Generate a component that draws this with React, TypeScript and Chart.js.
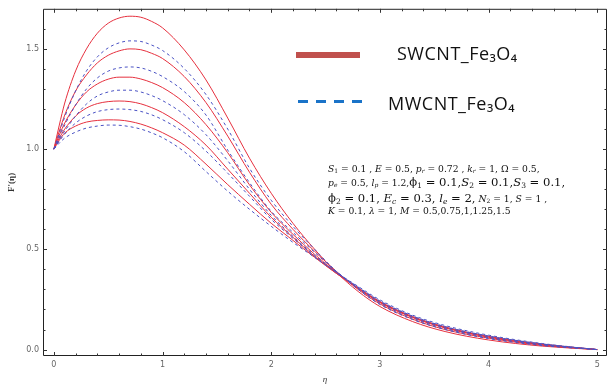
import React, { useEffect, useRef } from "react";
import { Chart, registerables } from "chart.js";
Chart.register(...registerables);

const eta = [0, 0.05, 0.1, 0.2, 0.3, 0.4, 0.5, 0.6, 0.7, 0.8, 0.9, 1.0, 1.2, 1.4, 1.6, 1.8, 2.0, 2.2, 2.4, 2.6, 2.8, 3.0, 3.3, 3.6, 4.0, 4.5, 5.0];

const swcnt1 = [1.0, 1.12, 1.23, 1.39, 1.5, 1.578, 1.628, 1.654, 1.663, 1.658, 1.637, 1.605, 1.495, 1.345, 1.155, 0.955, 0.78, 0.63, 0.5, 0.385, 0.29, 0.215, 0.14, 0.09, 0.048, 0.017, 0.0];
const swcnt2 = [1.0, 1.09, 1.17, 1.29, 1.37, 1.43, 1.468, 1.49, 1.5, 1.496, 1.478, 1.452, 1.362, 1.232, 1.065, 0.885, 0.725, 0.6, 0.49, 0.39, 0.3, 0.228, 0.152, 0.1, 0.057, 0.021, 0.0];
const swcnt3 = [1.0, 1.07, 1.13, 1.22, 1.285, 1.325, 1.349, 1.359, 1.359, 1.35, 1.332, 1.307, 1.232, 1.122, 0.982, 0.822, 0.685, 0.575, 0.475, 0.385, 0.305, 0.235, 0.16, 0.108, 0.062, 0.024, 0.0];
const swcnt4 = [1.0, 1.055, 1.1, 1.165, 1.205, 1.227, 1.237, 1.24, 1.237, 1.226, 1.207, 1.182, 1.112, 1.02, 0.9, 0.78, 0.66, 0.56, 0.465, 0.38, 0.305, 0.237, 0.162, 0.11, 0.063, 0.025, 0.0];
const swcnt5 = [1.0, 1.045, 1.08, 1.115, 1.135, 1.143, 1.146, 1.145, 1.138, 1.125, 1.106, 1.082, 1.02, 0.925, 0.823, 0.725, 0.63, 0.545, 0.46, 0.38, 0.308, 0.24, 0.165, 0.113, 0.066, 0.027, 0.0];

const mwcnt1 = [1.0, 1.08, 1.16, 1.29, 1.39, 1.46, 1.505, 1.53, 1.54, 1.537, 1.519, 1.492, 1.402, 1.272, 1.1, 0.905, 0.745, 0.615, 0.5, 0.39, 0.3, 0.225, 0.15, 0.1, 0.055, 0.02, 0.0];
const mwcnt2 = [1.0, 1.06, 1.12, 1.22, 1.3, 1.355, 1.389, 1.405, 1.41, 1.405, 1.388, 1.362, 1.287, 1.17, 0.995, 0.833, 0.69, 0.585, 0.485, 0.39, 0.305, 0.232, 0.157, 0.105, 0.06, 0.023, 0.0];
const mwcnt3 = [1.0, 1.05, 1.09, 1.165, 1.225, 1.265, 1.285, 1.294, 1.294, 1.285, 1.267, 1.242, 1.172, 1.072, 0.942, 0.8, 0.67, 0.565, 0.47, 0.385, 0.31, 0.24, 0.165, 0.112, 0.065, 0.026, 0.0];
const mwcnt4 = [1.0, 1.04, 1.075, 1.13, 1.165, 1.187, 1.197, 1.2, 1.197, 1.188, 1.171, 1.147, 1.082, 0.99, 0.88, 0.765, 0.65, 0.555, 0.465, 0.385, 0.312, 0.243, 0.168, 0.115, 0.068, 0.028, 0.0];
const mwcnt5 = [1.0, 1.03, 1.055, 1.085, 1.105, 1.115, 1.12, 1.119, 1.112, 1.1, 1.081, 1.057, 0.987, 0.888, 0.79, 0.7, 0.615, 0.535, 0.46, 0.385, 0.315, 0.248, 0.172, 0.12, 0.072, 0.03, 0.0];

const xTickLabels = [0, 1, 2, 3, 4, 5];
const yTickLabels = [0, 0.5, 1.0, 1.5];
const xMinorStep = 0.2;
const yMinorStep = 0.1;

const swcntSeries = [swcnt1, swcnt2, swcnt3, swcnt4, swcnt5];
const mwcntSeries = [mwcnt1, mwcnt2, mwcnt3, mwcnt4, mwcnt5];

const RED = "#e6303e";
const BLUE = "#4a52c4";

const framePlugin = {
  id: "framePlugin",
  afterDraw(chart: any) {
    const { ctx, chartArea, scales } = chart;
    const { left, right, top, bottom } = chartArea;
    const x = scales.x;
    const y = scales.y;
    ctx.save();
    ctx.strokeStyle = "#222";
    ctx.lineWidth = 1;
    ctx.beginPath();
    ctx.rect(left + 0.5, top + 0.5, right - left - 1, bottom - top - 1);
    ctx.stroke();
    ctx.strokeStyle = "#333";
    for (let i = 0; i <= 25; i++) {
      const v = i * xMinorStep;
      const px = Math.round(x.getPixelForValue(v)) + 0.5;
      const major = Math.abs(v - Math.round(v)) < 1e-6;
      const len = major ? 4 : 2.5;
      ctx.beginPath();
      ctx.moveTo(px, bottom);
      ctx.lineTo(px, bottom - len);
      ctx.moveTo(px, top);
      ctx.lineTo(px, top + len);
      ctx.stroke();
    }
    for (let i = 0; i <= 16; i++) {
      const v = i * yMinorStep;
      const py = Math.round(y.getPixelForValue(v)) + 0.5;
      const major = Math.abs(v * 2 - Math.round(v * 2)) < 1e-6;
      const len = major ? 4 : 2.5;
      ctx.beginPath();
      ctx.moveTo(left, py);
      ctx.lineTo(left + len, py);
      ctx.moveTo(right, py);
      ctx.lineTo(right - len, py);
      ctx.stroke();
    }
    ctx.fillStyle = "#333";
    ctx.font = "italic 9px 'Liberation Serif'";
    ctx.textAlign = "center";
    ctx.textBaseline = "middle";
    ctx.fillText("η", (left + right) / 2, 380);
    ctx.translate(12, (top + bottom) / 2);
    ctx.rotate(-Math.PI / 2);
    ctx.font = "bold 9px 'Liberation Serif'";
    ctx.fillText("F'(η)", 0, 0);
    ctx.restore();
  },
};

export default function App() {
  const ref = useRef<HTMLCanvasElement | null>(null);
  useEffect(() => {
    if (!ref.current) return;
    const datasets: any[] = [];
    mwcntSeries.forEach((s, i) => {
      datasets.push({
        label: "MWCNT_Fe3O4 " + (i + 1),
        data: eta.map((e, k) => ({ x: e, y: s[k] })),
        borderColor: BLUE,
        borderWidth: 1,
        borderDash: [3, 3],
        pointRadius: 0,
        fill: false,
        cubicInterpolationMode: "monotone",
      });
    });
    swcntSeries.forEach((s, i) => {
      datasets.push({
        label: "SWCNT_Fe3O4 " + (i + 1),
        data: eta.map((e, k) => ({ x: e, y: s[k] })),
        borderColor: RED,
        borderWidth: 1,
        pointRadius: 0,
        fill: false,
        cubicInterpolationMode: "monotone",
      });
    });
    const chart = new Chart(ref.current, {
      type: "line",
      data: { datasets },
      options: {
        animation: false,
        responsive: false,
        devicePixelRatio: 1,
        layout: { padding: { top: 7, right: 6, left: 0, bottom: 0 } },
        plugins: { legend: { display: false }, tooltip: { enabled: false } },
        scales: {
          x: {
            type: "linear",
            min: -0.1,
            max: 5.09,
            grid: { display: false, drawTicks: false },
            border: { display: false },
            afterFit: (s: any) => { s.height = 33; },
            afterBuildTicks: (s: any) => { s.ticks = xTickLabels.map((v) => ({ value: v })); },
            ticks: {
              autoSkip: false,
              padding: 4,
              color: "#666",
              font: { family: "'DejaVu Sans'", size: 8 },
              callback: (v: any) => String(v),
            },
          },
          y: {
            type: "linear",
            min: -0.032,
            max: 1.7,
            grid: { display: false, drawTicks: false },
            border: { display: false },
            afterFit: (s: any) => { s.width = 43; },
            afterBuildTicks: (s: any) => { s.ticks = yTickLabels.map((v) => ({ value: v })); },
            ticks: {
              autoSkip: false,
              padding: 4,
              color: "#666",
              font: { family: "'DejaVu Sans'", size: 8 },
              callback: (v: any) => Number(v).toFixed(1),
            },
          },
        },
      },
      plugins: [framePlugin],
    });
    return () => chart.destroy();
  }, []);

  const small: React.CSSProperties = { fontSize: 9.2 };
  const big: React.CSSProperties = { fontSize: 11.6 };
  const line = (top: number): React.CSSProperties => ({
    position: "absolute",
    left: 328,
    top,
    whiteSpace: "nowrap",
    fontFamily: "'DejaVu Serif', serif",
    fontSize: 10,
    lineHeight: "10px",
    color: "#111",
  });
  const sub: React.CSSProperties = { fontSize: "0.65em", verticalAlign: "-0.2em", lineHeight: 0 };

  return (
    <div style={{ position: "fixed", left: 0, top: 0, width: 613, height: 389, background: "#fff" }}>
      <canvas ref={ref} width={613} height={389} style={{ position: "absolute", left: 0, top: 0 }} />
      <div style={{ position: "absolute", left: 296, top: 52, width: 64, height: 6, background: "#c0504d" }} />
      <div style={{ position: "absolute", left: 397, top: 43, fontFamily: "'Open Sans', sans-serif", fontSize: 18, letterSpacing: 0.5, lineHeight: "20px", color: "#111", whiteSpace: "nowrap" }}>
        SWCNT_Fe₃O₄
      </div>
      {[0, 1, 2, 3].map((i) => (
        <div key={i} style={{ position: "absolute", left: 298 + i * 18, top: 100, width: 10, height: 3, background: "#1a73c8" }} />
      ))}
      <div style={{ position: "absolute", left: 388, top: 93, fontFamily: "'Open Sans', sans-serif", fontSize: 18, letterSpacing: 0.5, lineHeight: "20px", color: "#111", whiteSpace: "nowrap" }}>
        MWCNT_Fe₃O₄
      </div>
      <div style={line(164)}>
        <span style={small}>
          <i>S</i><span style={sub}>1</span> = 0.1 , <i>E</i> = 0.5, <i>p</i><span style={sub}><i>r</i></span> = 0.72 , <i>k</i><span style={sub}><i>r</i></span> = 1, Ω = 0.5,
        </span>
      </div>
      <div style={line(177)}>
        <span style={small}>
          <i>p</i><span style={sub}><i>e</i></span> = 0.5, <i>l</i><span style={sub}><i>p</i></span> = 1.2,
        </span>
        <span style={big}>
          ϕ<span style={sub}>1</span> = 0.1,<i>S</i><span style={sub}>2</span> = 0.1,<i>S</i><span style={sub}>3</span> = 0.1,
        </span>
      </div>
      <div style={line(193)}>
        <span style={big}>
          ϕ<span style={sub}>2</span> = 0.1, <i>E</i><span style={sub}><i>c</i></span> = 0.3, <i>l</i><span style={sub}><i>e</i></span> = 2,
        </span>
        <span style={small}>
          {" "}<i>N</i><span style={sub}>2</span> = 1, <i>S</i> = 1 ,
        </span>
      </div>
      <div style={line(206)}>
        <span style={small}>
          <i>K</i> = 0.1, <i>λ</i> = 1, <i>M</i> = 0.5,0.75,1,1.25,1.5
        </span>
      </div>
    </div>
  );
}
